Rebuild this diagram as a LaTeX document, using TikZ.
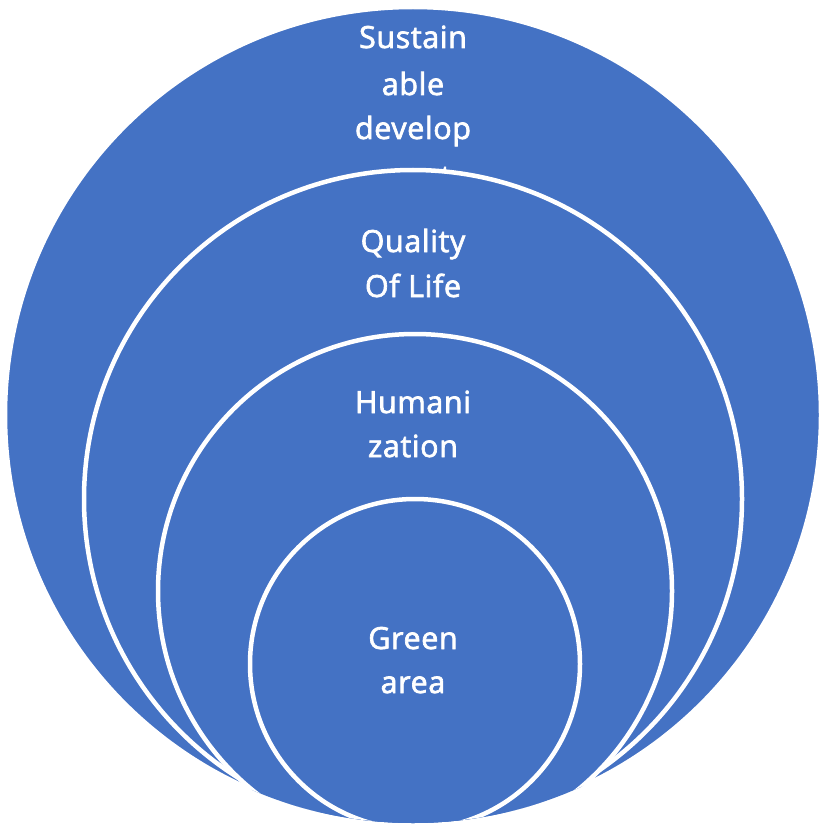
\documentclass[tikz,border=0pt]{standalone}
\usepackage{fontspec}
\newfontfamily\lblfont{Open Sans}[FakeBold=2.2,LetterSpace=2]
\definecolor{ringblue}{HTML}{4472C4}
\begin{document}
\begin{tikzpicture}[x=1pt,y=-1pt,
  ring/.style={fill=ringblue,draw=white,line width=4.5pt},
  lbl/.style={text=white,inner sep=0pt,anchor=base,font=\lblfont\fontsize{30.5}{36}\selectfont}]
\useasboundingbox (0,0) rectangle (829,829);
% outer ring
\path[ring] (413,415) circle[radius=408];
\node[lbl] (s1) at (413,48) {Sustain};
\node[lbl] (s2) at (413,95) {able};
\node[lbl] (s3) at (413,139) {develop};
\node[lbl] (s4) at (413,187) {ment};
\begin{scope}
  \clip (413,415) circle[radius=408];
  \path[ring] (413,499) circle[radius=329];
  \path[ring] (415,591) circle[radius=257];
  \path[ring] (415,664) circle[radius=165];
\end{scope}
\node[lbl] (q1) at (413,252) {Quality};
\node[lbl] (q2) at (413,297) {Of Life};
\node[lbl] (h1) at (413,413) {Humani};
\node[lbl] (h2) at (413,457) {zation};
\node[lbl] (g1) at (413,649) {Green};
\node[lbl] (g2) at (413,693) {area};
\end{tikzpicture}
\end{document}
